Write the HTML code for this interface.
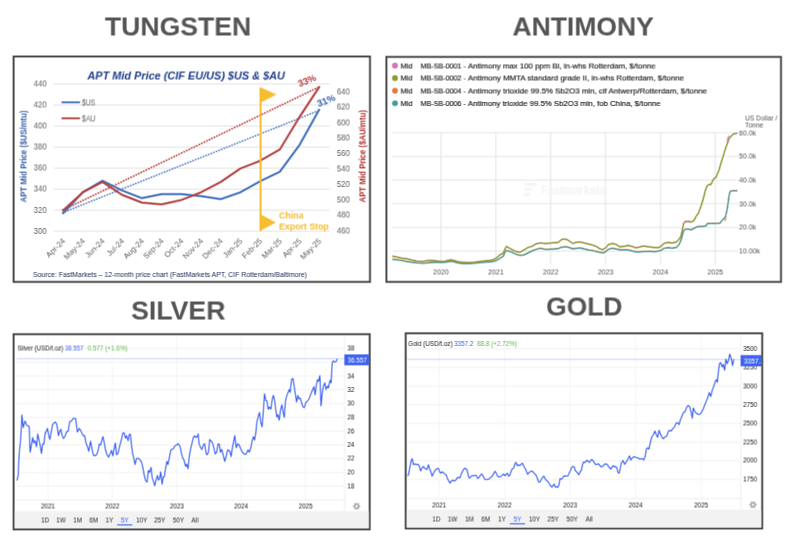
<!DOCTYPE html>
<html><head><meta charset="utf-8"><title>Commodity charts</title>
<style>html,body{margin:0;padding:0;background:#fff;overflow:hidden;}svg{display:block;font-family:"Liberation Sans",sans-serif;filter:blur(0.3px);}</style>
</head><body>
<svg width="800" height="546" viewBox="0 0 800 546">
<defs><g id="c">
<rect x="-5" y="-5" width="810" height="556" fill="#fff"/>
<text x="104.9" y="35.8" font-size="26.6" fill="#555" font-weight="bold" text-anchor="start" textLength="146.3" lengthAdjust="spacingAndGlyphs">TUNGSTEN</text>
<text x="512.5" y="35.8" font-size="26.6" fill="#555" font-weight="bold" text-anchor="start" textLength="141.3" lengthAdjust="spacingAndGlyphs">ANTIMONY</text>
<text x="131.2" y="319.2" font-size="26.6" fill="#555" font-weight="bold" text-anchor="start" textLength="94.3" lengthAdjust="spacingAndGlyphs">SILVER</text>
<text x="546.2" y="315.7" font-size="26.6" fill="#555" font-weight="bold" text-anchor="start" textLength="76.3" lengthAdjust="spacingAndGlyphs">GOLD</text>
<rect x="13.6" y="56.5" width="356.4" height="225.4" fill="#fff" stroke="#444" stroke-width="1.9"/>
<rect x="386.4" y="56.9" width="394.6" height="225.0" fill="#fff" stroke="#444" stroke-width="1.9"/>
<rect x="13.6" y="334.2" width="356.1" height="195.2" fill="#fff" stroke="#444" stroke-width="1.9"/>
<rect x="405.7" y="333.3" width="356.5" height="195.2" fill="#fff" stroke="#444" stroke-width="1.9"/>
<text x="87.4" y="79.6" font-size="11.4" fill="#1f3f8c" font-weight="bold" text-anchor="start" font-style="italic" textLength="197.5" lengthAdjust="spacingAndGlyphs">APT Mid Price (CIF EU/US) $US &amp; $AU</text>
<line x1="54" y1="83.9" x2="329.5" y2="83.9" stroke="#e4e4e4" stroke-width="1"/>
<text x="33.7" y="86.7" font-size="8.4" fill="#636363" font-weight="normal" text-anchor="start" textLength="12.9" lengthAdjust="spacingAndGlyphs">440</text>
<line x1="54" y1="105.0" x2="329.5" y2="105.0" stroke="#e4e4e4" stroke-width="1"/>
<text x="33.7" y="107.7" font-size="8.4" fill="#636363" font-weight="normal" text-anchor="start" textLength="12.9" lengthAdjust="spacingAndGlyphs">420</text>
<line x1="54" y1="126.0" x2="329.5" y2="126.0" stroke="#e4e4e4" stroke-width="1"/>
<text x="33.7" y="128.8" font-size="8.4" fill="#636363" font-weight="normal" text-anchor="start" textLength="12.9" lengthAdjust="spacingAndGlyphs">400</text>
<line x1="54" y1="147.1" x2="329.5" y2="147.1" stroke="#e4e4e4" stroke-width="1"/>
<text x="33.7" y="149.8" font-size="8.4" fill="#636363" font-weight="normal" text-anchor="start" textLength="12.9" lengthAdjust="spacingAndGlyphs">380</text>
<line x1="54" y1="168.1" x2="329.5" y2="168.1" stroke="#e4e4e4" stroke-width="1"/>
<text x="33.7" y="170.9" font-size="8.4" fill="#636363" font-weight="normal" text-anchor="start" textLength="12.9" lengthAdjust="spacingAndGlyphs">360</text>
<line x1="54" y1="189.2" x2="329.5" y2="189.2" stroke="#e4e4e4" stroke-width="1"/>
<text x="33.7" y="191.9" font-size="8.4" fill="#636363" font-weight="normal" text-anchor="start" textLength="12.9" lengthAdjust="spacingAndGlyphs">340</text>
<line x1="54" y1="210.2" x2="329.5" y2="210.2" stroke="#e4e4e4" stroke-width="1"/>
<text x="33.7" y="213.0" font-size="8.4" fill="#636363" font-weight="normal" text-anchor="start" textLength="12.9" lengthAdjust="spacingAndGlyphs">320</text>
<line x1="54" y1="231.2" x2="329.5" y2="231.2" stroke="#e4e4e4" stroke-width="1"/>
<text x="33.7" y="234.0" font-size="8.4" fill="#636363" font-weight="normal" text-anchor="start" textLength="12.9" lengthAdjust="spacingAndGlyphs">300</text>
<text x="336.9" y="94.3" font-size="8.4" fill="#636363" font-weight="normal" text-anchor="start" textLength="12.9" lengthAdjust="spacingAndGlyphs">640</text>
<text x="336.9" y="109.8" font-size="8.4" fill="#636363" font-weight="normal" text-anchor="start" textLength="12.9" lengthAdjust="spacingAndGlyphs">620</text>
<text x="336.9" y="125.2" font-size="8.4" fill="#636363" font-weight="normal" text-anchor="start" textLength="12.9" lengthAdjust="spacingAndGlyphs">600</text>
<text x="336.9" y="140.7" font-size="8.4" fill="#636363" font-weight="normal" text-anchor="start" textLength="12.9" lengthAdjust="spacingAndGlyphs">580</text>
<text x="336.9" y="156.1" font-size="8.4" fill="#636363" font-weight="normal" text-anchor="start" textLength="12.9" lengthAdjust="spacingAndGlyphs">560</text>
<text x="336.9" y="171.6" font-size="8.4" fill="#636363" font-weight="normal" text-anchor="start" textLength="12.9" lengthAdjust="spacingAndGlyphs">540</text>
<text x="336.9" y="187.0" font-size="8.4" fill="#636363" font-weight="normal" text-anchor="start" textLength="12.9" lengthAdjust="spacingAndGlyphs">520</text>
<text x="336.9" y="202.5" font-size="8.4" fill="#636363" font-weight="normal" text-anchor="start" textLength="12.9" lengthAdjust="spacingAndGlyphs">500</text>
<text x="336.9" y="217.9" font-size="8.4" fill="#636363" font-weight="normal" text-anchor="start" textLength="12.9" lengthAdjust="spacingAndGlyphs">480</text>
<text x="336.9" y="233.4" font-size="8.4" fill="#636363" font-weight="normal" text-anchor="start" textLength="12.9" lengthAdjust="spacingAndGlyphs">460</text>
<text transform="translate(26.6 156.5) rotate(-90)" font-size="8.8" fill="#3a62ab" font-weight="bold" text-anchor="middle" textLength="92" lengthAdjust="spacingAndGlyphs">APT Mid Price ($US/mtu)</text>
<text transform="translate(365.2 156.3) rotate(-90)" font-size="8.8" fill="#b53333" font-weight="bold" text-anchor="middle" textLength="92.5" lengthAdjust="spacingAndGlyphs">APT Mid Price ($AU/mtu)</text>
<text transform="translate(65.7 241.6) rotate(-45)" font-size="7.8" fill="#636363" text-anchor="end">Apr-24</text>
<text transform="translate(85.4 241.6) rotate(-45)" font-size="7.8" fill="#636363" text-anchor="end">May-24</text>
<text transform="translate(105.1 241.6) rotate(-45)" font-size="7.8" fill="#636363" text-anchor="end">Jun-24</text>
<text transform="translate(124.8 241.6) rotate(-45)" font-size="7.8" fill="#636363" text-anchor="end">Jul-24</text>
<text transform="translate(144.5 241.6) rotate(-45)" font-size="7.8" fill="#636363" text-anchor="end">Aug-24</text>
<text transform="translate(164.2 241.6) rotate(-45)" font-size="7.8" fill="#636363" text-anchor="end">Sep-24</text>
<text transform="translate(183.9 241.6) rotate(-45)" font-size="7.8" fill="#636363" text-anchor="end">Oct-24</text>
<text transform="translate(203.6 241.6) rotate(-45)" font-size="7.8" fill="#636363" text-anchor="end">Nov-24</text>
<text transform="translate(223.3 241.6) rotate(-45)" font-size="7.8" fill="#636363" text-anchor="end">Dec-24</text>
<text transform="translate(243.0 241.6) rotate(-45)" font-size="7.8" fill="#636363" text-anchor="end">Jan-25</text>
<text transform="translate(262.7 241.6) rotate(-45)" font-size="7.8" fill="#636363" text-anchor="end">Feb-25</text>
<text transform="translate(282.4 241.6) rotate(-45)" font-size="7.8" fill="#636363" text-anchor="end">Mar-25</text>
<text transform="translate(302.1 241.6) rotate(-45)" font-size="7.8" fill="#636363" text-anchor="end">Apr-25</text>
<text transform="translate(321.8 241.6) rotate(-45)" font-size="7.8" fill="#636363" text-anchor="end">May-25</text>
<line x1="61.5" y1="102.3" x2="80" y2="102.3" stroke="#3f6fbf" stroke-width="1.8"/>
<line x1="61.5" y1="118.3" x2="80" y2="118.3" stroke="#b5413f" stroke-width="1.8"/>
<text x="81.9" y="105.2" font-size="8.3" fill="#636363" font-weight="normal" text-anchor="start" textLength="13.4" lengthAdjust="spacingAndGlyphs">$US</text>
<text x="81.9" y="121.5" font-size="8.3" fill="#636363" font-weight="normal" text-anchor="start" textLength="13.6" lengthAdjust="spacingAndGlyphs">$AU</text>
<line x1="63" y1="210" x2="319" y2="87" stroke="#bd3a38" stroke-width="1.75" stroke-dasharray="0.1 2.7" stroke-linecap="round"/>
<line x1="63" y1="212.5" x2="319" y2="110.5" stroke="#4674bf" stroke-width="1.65" stroke-dasharray="0.1 2.7" stroke-linecap="round"/>
<path d="M63.1 213.3 L82.8 192.3 L102.5 180.8 L122.2 190.5 L141.9 198.2 L161.6 194.1 L181.3 194.1 L201.0 196.2 L220.7 199.2 L240.4 192.3 L260.1 181.3 L279.8 171.8 L299.5 145.0 L319.2 109.7" fill="none" stroke="#3f6fbf" stroke-width="2" stroke-linejoin="round" stroke-linecap="round"/>
<path d="M63.1 210.3 L82.8 192.3 L102.5 182.0 L122.2 194.9 L141.9 202.6 L161.6 204.4 L181.3 200.0 L201.0 192.3 L220.7 182.0 L240.4 168.5 L260.1 160.8 L279.8 149.5 L299.5 117.0 L319.2 87.0" fill="none" stroke="#b5413f" stroke-width="2" stroke-linejoin="round" stroke-linecap="round"/>
<line x1="260.6" y1="88" x2="260.6" y2="231" stroke="#f5bd2f" stroke-width="2"/>
<path d="M259.8 87 L276.4 94.5 L259.8 103 Z" fill="#f5bd2f"/>
<path d="M259.8 214 L275.8 222.5 L259.8 231 Z" fill="#f5bd2f"/>
<text x="279.0" y="218.8" font-size="8.8" fill="#f5bd2f" font-weight="bold" text-anchor="start">China</text>
<text x="279.0" y="229.8" font-size="8.8" fill="#f5bd2f" font-weight="bold" text-anchor="start">Export Stop</text>
<text transform="translate(299.5 87) rotate(-22)" font-size="9.3" fill="#b53b39" font-weight="bold">33%</text>
<text transform="translate(318.7 107) rotate(-22)" font-size="9.3" fill="#3761ad" font-weight="bold">31%</text>
<text x="33.0" y="277.0" font-size="6.9" fill="#1a2855" font-weight="normal" text-anchor="start" textLength="274" lengthAdjust="spacingAndGlyphs">Source: FastMarkets – 12-month price chart (FastMarkets APT, CIF Rotterdam/Baltimore)</text>
<circle cx="395" cy="65.6" r="2.9" fill="#d572b8"/>
<text x="400.6" y="68.3" font-size="7.3" fill="#222" font-weight="normal" text-anchor="start" stroke="#222" stroke-width="0.15">Mid</text>
<text x="420.7" y="68.3" font-size="7.5" fill="#222" font-weight="normal" text-anchor="start" textLength="45.1" lengthAdjust="spacingAndGlyphs" stroke="#222" stroke-width="0.15">MB-SB-0001 -</text>
<text x="468.0" y="68.3" font-size="7.5" fill="#222" font-weight="normal" text-anchor="start" textLength="187.6" lengthAdjust="spacingAndGlyphs" stroke="#222" stroke-width="0.15">Antimony max 100 ppm Bi, in-whs Rotterdam, $/tonne</text>
<circle cx="395" cy="78.1" r="2.9" fill="#8d9c2a"/>
<text x="400.6" y="80.8" font-size="7.3" fill="#222" font-weight="normal" text-anchor="start" stroke="#222" stroke-width="0.15">Mid</text>
<text x="420.7" y="80.8" font-size="7.5" fill="#222" font-weight="normal" text-anchor="start" textLength="45.1" lengthAdjust="spacingAndGlyphs" stroke="#222" stroke-width="0.15">MB-SB-0002 -</text>
<text x="468.0" y="80.8" font-size="7.5" fill="#222" font-weight="normal" text-anchor="start" textLength="216.0" lengthAdjust="spacingAndGlyphs" stroke="#222" stroke-width="0.15">Antimony MMTA standard grade II, in-whs Rotterdam, $/tonne</text>
<circle cx="395" cy="90.7" r="2.9" fill="#e8763a"/>
<text x="400.6" y="93.4" font-size="7.3" fill="#222" font-weight="normal" text-anchor="start" stroke="#222" stroke-width="0.15">Mid</text>
<text x="420.7" y="93.4" font-size="7.5" fill="#222" font-weight="normal" text-anchor="start" textLength="45.1" lengthAdjust="spacingAndGlyphs" stroke="#222" stroke-width="0.15">MB-SB-0004 -</text>
<text x="468.0" y="93.4" font-size="7.5" fill="#222" font-weight="normal" text-anchor="start" textLength="239.0" lengthAdjust="spacingAndGlyphs" stroke="#222" stroke-width="0.15">Antimony trioxide 99.5% Sb2O3 min, cif Antwerp/Rotterdam, $/tonne</text>
<circle cx="395" cy="103.2" r="2.9" fill="#3f9c9a"/>
<text x="400.6" y="106.0" font-size="7.3" fill="#222" font-weight="normal" text-anchor="start" stroke="#222" stroke-width="0.15">Mid</text>
<text x="420.7" y="106.0" font-size="7.5" fill="#222" font-weight="normal" text-anchor="start" textLength="45.1" lengthAdjust="spacingAndGlyphs" stroke="#222" stroke-width="0.15">MB-SB-0006 -</text>
<text x="468.0" y="106.0" font-size="7.5" fill="#222" font-weight="normal" text-anchor="start" textLength="192.6" lengthAdjust="spacingAndGlyphs" stroke="#222" stroke-width="0.15">Antimony trioxide 99.5% Sb2O3 min, fob China, $/tonne</text>
<line x1="392.4" y1="132.7" x2="738.5" y2="132.7" stroke="#e4e4e4" stroke-width="0.9"/>
<text x="739.0" y="135.2" font-size="7" fill="#555" font-weight="normal" text-anchor="start">60.0k</text>
<line x1="392.4" y1="156.4" x2="738.5" y2="156.4" stroke="#e4e4e4" stroke-width="0.9"/>
<text x="739.0" y="158.9" font-size="7" fill="#555" font-weight="normal" text-anchor="start">50.0k</text>
<line x1="392.4" y1="180.1" x2="738.5" y2="180.1" stroke="#e4e4e4" stroke-width="0.9"/>
<text x="739.0" y="182.6" font-size="7" fill="#555" font-weight="normal" text-anchor="start">40.0k</text>
<line x1="392.4" y1="203.7" x2="738.5" y2="203.7" stroke="#e4e4e4" stroke-width="0.9"/>
<text x="739.0" y="206.2" font-size="7" fill="#555" font-weight="normal" text-anchor="start">30.0k</text>
<line x1="392.4" y1="227.4" x2="738.5" y2="227.4" stroke="#e4e4e4" stroke-width="0.9"/>
<text x="739.0" y="229.9" font-size="7" fill="#555" font-weight="normal" text-anchor="start">20.0k</text>
<line x1="392.4" y1="251.1" x2="738.5" y2="251.1" stroke="#e4e4e4" stroke-width="0.9"/>
<text x="739.0" y="253.6" font-size="7" fill="#555" font-weight="normal" text-anchor="start">10.00k</text>
<line x1="441.0" y1="132.7" x2="441.0" y2="264" stroke="#e4e4e4" stroke-width="0.9"/>
<text x="441.0" y="274.5" font-size="7" fill="#555" font-weight="normal" text-anchor="middle">2020</text>
<line x1="495.9" y1="132.7" x2="495.9" y2="264" stroke="#e4e4e4" stroke-width="0.9"/>
<text x="495.9" y="274.5" font-size="7" fill="#555" font-weight="normal" text-anchor="middle">2021</text>
<line x1="550.7" y1="132.7" x2="550.7" y2="264" stroke="#e4e4e4" stroke-width="0.9"/>
<text x="550.7" y="274.5" font-size="7" fill="#555" font-weight="normal" text-anchor="middle">2022</text>
<line x1="605.6" y1="132.7" x2="605.6" y2="264" stroke="#e4e4e4" stroke-width="0.9"/>
<text x="605.6" y="274.5" font-size="7" fill="#555" font-weight="normal" text-anchor="middle">2023</text>
<line x1="660.5" y1="132.7" x2="660.5" y2="264" stroke="#e4e4e4" stroke-width="0.9"/>
<text x="660.5" y="274.5" font-size="7" fill="#555" font-weight="normal" text-anchor="middle">2024</text>
<line x1="715.3" y1="132.7" x2="715.3" y2="264" stroke="#e4e4e4" stroke-width="0.9"/>
<text x="715.3" y="274.5" font-size="7" fill="#555" font-weight="normal" text-anchor="middle">2025</text>
<text x="745.2" y="120.7" font-size="6.7" fill="#555" font-weight="normal" text-anchor="start" textLength="32" lengthAdjust="spacingAndGlyphs">US Dollar /</text>
<text x="745.2" y="127.6" font-size="6.7" fill="#555" font-weight="normal" text-anchor="start">Tonne</text>
<path d="M524.5 182.8 h12.2 v3.1 h-12.2 Z M524.5 188 h7.9 v2.7 h-7.9 Z M524.5 192.9 h5.2 v3 h-5.2 Z" fill="#f5f5f5"/>
<text x="540.8" y="194.6" font-size="12.6" fill="#f5f5f5" font-weight="bold" text-anchor="start" textLength="65" lengthAdjust="spacingAndGlyphs">Fastmarkets</text>
<path d="M392.3 259.0 L396.5 259.5 L401.8 260.2 L407.0 261.3 L412.3 262.0 L417.5 262.7 L422.8 263.0 L428.0 262.5 L433.3 262.1 L438.5 262.0 L443.8 262.1 L447.3 261.6 L450.8 260.9 L454.3 261.6 L457.8 262.7 L463.0 263.4 L468.3 263.4 L473.5 263.0 L478.8 262.5 L484.0 262.0 L489.3 261.6 L492.8 261.3 L496.3 260.2 L499.8 258.1 L503.3 256.0 L505.0 252.0 L506.4 250.2 L508.5 250.8 L512.0 252.0 L516.0 254.0 L520.0 255.2 L524.0 254.6 L528.0 252.6 L532.0 250.6 L536.0 249.2 L540.0 248.0 L546.0 249.2 L552.0 248.8 L558.0 248.4 L561.0 247.2 L564.0 246.6 L567.0 246.6 L570.0 247.6 L573.0 248.6 L576.0 248.2 L580.0 247.6 L584.0 248.6 L588.0 249.6 L592.0 250.2 L596.0 251.2 L600.0 252.2 L603.0 252.6 L606.0 251.2 L608.0 249.2 L612.0 248.0 L616.0 248.6 L620.0 249.6 L624.0 249.6 L628.0 249.6 L632.0 250.6 L636.0 251.6 L640.0 251.6 L644.0 251.2 L648.0 251.2 L650.0 250.9 L654.1 251.5 L658.2 250.9 L661.0 250.1 L663.7 248.2 L667.9 247.3 L672.0 247.9 L676.1 247.3 L678.8 244.6 L680.8 240.5 L682.4 235.0 L683.5 230.9 L685.2 228.9 L688.5 228.9 L691.2 229.5 L694.0 228.1 L696.7 226.7 L699.5 226.2 L703.6 226.2 L706.3 225.4 L707.1 223.4 L710.4 223.2 L715.9 223.2 L720.1 222.9 L721.4 220.7 L723.6 218.5 L725.5 216.3 L726.9 210.3 L728.0 203.4 L729.1 195.1 L730.2 191.0 L732.4 190.5 L737.4 190.5" fill="none" stroke="#e8763a" stroke-width="1.0" stroke-linejoin="round"/>
<path d="M392.3 259.4 L396.5 259.9 L401.8 260.6 L407.0 261.7 L412.3 262.4 L417.5 263.1 L422.8 263.4 L428.0 262.9 L433.3 262.5 L438.5 262.4 L443.8 262.5 L447.3 262.0 L450.8 261.3 L454.3 262.0 L457.8 263.1 L463.0 263.8 L468.3 263.8 L473.5 263.4 L478.8 262.9 L484.0 262.4 L489.3 262.0 L492.8 261.7 L496.3 260.6 L499.8 258.5 L503.3 256.4 L505.0 252.4 L506.4 250.6 L508.5 251.2 L512.0 252.4 L516.0 254.4 L520.0 255.6 L524.0 255.0 L528.0 253.0 L532.0 251.0 L536.0 249.6 L540.0 248.4 L546.0 249.6 L552.0 249.2 L558.0 248.8 L561.0 247.6 L564.0 247.0 L567.0 247.0 L570.0 248.0 L573.0 249.0 L576.0 248.6 L580.0 248.0 L584.0 249.0 L588.0 250.0 L592.0 250.6 L596.0 251.6 L600.0 252.6 L603.0 253.0 L606.0 251.6 L608.0 249.6 L612.0 248.4 L616.0 249.0 L620.0 250.0 L624.0 250.0 L628.0 250.0 L632.0 251.0 L636.0 252.0 L640.0 252.0 L644.0 251.6 L648.0 251.6 L650.0 251.3 L654.1 251.9 L658.2 251.3 L661.0 250.5 L663.7 248.6 L667.9 247.7 L672.0 248.3 L676.1 247.7 L678.8 245.0 L680.8 240.9 L682.4 235.4 L683.5 231.3 L685.2 229.3 L688.5 229.3 L691.2 229.9 L694.0 228.5 L696.7 227.1 L699.5 226.6 L703.6 226.6 L706.3 225.8 L707.1 223.8 L710.4 223.6 L715.9 223.6 L720.1 223.3 L721.4 221.1 L723.6 218.9 L725.5 216.7 L726.9 210.7 L728.0 203.8 L729.1 195.5 L730.2 191.4 L732.4 190.9 L737.4 190.9" fill="none" stroke="#3f9c9a" stroke-width="1.2" stroke-linejoin="round"/>
<path d="M392.3 255.9 L396.5 256.8 L401.8 257.9 L407.0 258.6 L412.3 260.0 L417.5 261.0 L422.8 261.2 L428.0 260.3 L433.3 260.3 L438.5 261.0 L443.8 261.4 L447.3 260.3 L450.8 259.6 L454.3 260.3 L457.8 261.4 L463.0 262.1 L468.3 262.4 L473.5 262.1 L478.8 261.4 L484.0 260.8 L489.3 260.3 L492.8 259.6 L496.3 257.9 L499.8 254.7 L503.3 253.0 L505.0 248.6 L506.4 246.3 L508.5 247.4 L512.0 249.5 L516.0 251.3 L520.0 252.1 L524.0 249.7 L528.0 247.3 L532.0 246.1 L536.0 243.7 L540.0 242.7 L546.0 243.3 L552.0 242.7 L558.0 242.3 L561.0 239.7 L564.0 238.7 L567.0 239.3 L570.0 241.3 L573.0 243.3 L576.0 242.1 L580.0 241.7 L584.0 242.7 L588.0 243.7 L592.0 244.7 L596.0 246.1 L600.0 248.7 L603.0 249.3 L606.0 247.3 L608.0 244.7 L612.0 243.3 L616.0 244.1 L620.0 246.7 L624.0 246.1 L628.0 245.3 L632.0 246.1 L636.0 247.7 L640.0 246.7 L644.0 245.7 L648.0 246.7 L650.0 246.6 L654.1 247.4 L658.2 247.4 L661.0 246.1 L663.7 243.3 L667.9 242.2 L672.0 242.8 L676.1 242.0 L678.8 239.2 L680.8 236.5 L682.4 229.6 L683.5 223.5 L685.2 221.3 L688.5 221.3 L691.2 221.9 L694.0 220.2 L696.2 215.9 L698.4 213.1 L700.5 207.6 L702.2 202.1 L703.8 196.6 L705.5 189.8 L707.1 185.6 L708.8 184.3 L711.0 184.3 L712.6 180.7 L714.3 177.9 L715.9 177.4 L717.6 173.3 L719.2 169.2 L720.9 163.1 L722.5 158.2 L724.2 152.7 L725.8 147.2 L727.5 143.1 L729.1 138.4 L731.0 136.2 L733.0 134.0 L735.2 133.4 L737.4 132.9" fill="none" stroke="#d572b8" stroke-width="1.0" stroke-linejoin="round"/>
<path d="M392.3 256.2 L396.5 257.1 L401.8 258.2 L407.0 258.9 L412.3 260.3 L417.5 261.3 L422.8 261.5 L428.0 260.6 L433.3 260.6 L438.5 261.3 L443.8 261.7 L447.3 260.6 L450.8 259.9 L454.3 260.6 L457.8 261.7 L463.0 262.4 L468.3 262.7 L473.5 262.4 L478.8 261.7 L484.0 261.1 L489.3 260.6 L492.8 259.9 L496.3 258.2 L499.8 255.0 L503.3 253.3 L505.0 248.9 L506.4 246.6 L508.5 247.7 L512.0 249.8 L516.0 251.6 L520.0 252.4 L524.0 250.0 L528.0 247.6 L532.0 246.4 L536.0 244.0 L540.0 243.0 L546.0 243.6 L552.0 243.0 L558.0 242.6 L561.0 240.0 L564.0 239.0 L567.0 239.6 L570.0 241.6 L573.0 243.6 L576.0 242.4 L580.0 242.0 L584.0 243.0 L588.0 244.0 L592.0 245.0 L596.0 246.4 L600.0 249.0 L603.0 249.6 L606.0 247.6 L608.0 245.0 L612.0 243.6 L616.0 244.4 L620.0 247.0 L624.0 246.4 L628.0 245.6 L632.0 246.4 L636.0 248.0 L640.0 247.0 L644.0 246.0 L648.0 247.0 L650.0 246.9 L654.1 247.7 L658.2 247.7 L661.0 246.4 L663.7 243.6 L667.9 242.5 L672.0 243.1 L676.1 242.3 L678.8 239.5 L680.8 236.8 L682.4 229.9 L683.5 223.8 L685.2 221.6 L688.5 221.6 L691.2 222.2 L694.0 220.5 L696.2 216.2 L698.4 213.4 L700.5 207.9 L702.2 202.4 L703.8 196.9 L705.5 190.1 L707.1 185.9 L708.8 184.6 L711.0 184.6 L712.6 181.0 L714.3 178.2 L715.9 177.7 L717.6 173.6 L719.2 169.5 L720.9 163.4 L722.5 158.5 L724.2 153.0 L725.8 147.5 L727.5 143.4 L729.1 138.7 L731.0 136.5 L733.0 134.3 L735.2 133.7 L737.4 133.2" fill="none" stroke="#8d9c2a" stroke-width="1.3" stroke-linejoin="round"/>
<path d="M727.3 142.5 L727.8 138 L729.6 135.6" fill="none" stroke="#d572b8" stroke-width="1.1"/>
<path d="M724.3 220.3 L725.6 220.3 L725.6 216" fill="none" stroke="#e8763a" stroke-width="1.0"/>
<path d="M684 222.3 L687 221.6 L690 220.6" fill="none" stroke="#d572b8" stroke-width="0.9"/>
<clipPath id="c13"><rect x="13.6" y="334.2" width="355.2" height="195.2"/></clipPath>
<rect x="14.5" y="511.2" width="354.3" height="17.2" fill="#f2f2f2"/>
<line x1="16.8" y1="348.4" x2="344.7" y2="348.4" stroke="#f0f0f0" stroke-width="0.8"/>
<text x="347.3" y="350.6" font-size="6.3" fill="#222" font-weight="normal" text-anchor="start">38</text>
<line x1="16.8" y1="362.2" x2="344.7" y2="362.2" stroke="#f0f0f0" stroke-width="0.8"/>
<line x1="16.8" y1="376.0" x2="344.7" y2="376.0" stroke="#f0f0f0" stroke-width="0.8"/>
<text x="347.3" y="378.2" font-size="6.3" fill="#222" font-weight="normal" text-anchor="start">34</text>
<line x1="16.8" y1="389.7" x2="344.7" y2="389.7" stroke="#f0f0f0" stroke-width="0.8"/>
<text x="347.3" y="392.0" font-size="6.3" fill="#222" font-weight="normal" text-anchor="start">32</text>
<line x1="16.8" y1="403.5" x2="344.7" y2="403.5" stroke="#f0f0f0" stroke-width="0.8"/>
<text x="347.3" y="405.8" font-size="6.3" fill="#222" font-weight="normal" text-anchor="start">30</text>
<line x1="16.8" y1="417.3" x2="344.7" y2="417.3" stroke="#f0f0f0" stroke-width="0.8"/>
<text x="347.3" y="419.5" font-size="6.3" fill="#222" font-weight="normal" text-anchor="start">28</text>
<line x1="16.8" y1="431.1" x2="344.7" y2="431.1" stroke="#f0f0f0" stroke-width="0.8"/>
<text x="347.3" y="433.3" font-size="6.3" fill="#222" font-weight="normal" text-anchor="start">26</text>
<line x1="16.8" y1="444.9" x2="344.7" y2="444.9" stroke="#f0f0f0" stroke-width="0.8"/>
<text x="347.3" y="447.1" font-size="6.3" fill="#222" font-weight="normal" text-anchor="start">24</text>
<line x1="16.8" y1="458.6" x2="344.7" y2="458.6" stroke="#f0f0f0" stroke-width="0.8"/>
<text x="347.3" y="460.9" font-size="6.3" fill="#222" font-weight="normal" text-anchor="start">22</text>
<line x1="16.8" y1="472.4" x2="344.7" y2="472.4" stroke="#f0f0f0" stroke-width="0.8"/>
<text x="347.3" y="474.7" font-size="6.3" fill="#222" font-weight="normal" text-anchor="start">20</text>
<line x1="16.8" y1="486.2" x2="344.7" y2="486.2" stroke="#f0f0f0" stroke-width="0.8"/>
<text x="347.3" y="488.4" font-size="6.3" fill="#222" font-weight="normal" text-anchor="start">18</text>
<line x1="48.0" y1="337.2" x2="48.0" y2="500.0" stroke="#f3f5f7" stroke-width="0.8"/>
<text x="48.0" y="508.6" font-size="6.3" fill="#222" font-weight="normal" text-anchor="middle">2021</text>
<line x1="112.4" y1="337.2" x2="112.4" y2="500.0" stroke="#f3f5f7" stroke-width="0.8"/>
<text x="112.4" y="508.6" font-size="6.3" fill="#222" font-weight="normal" text-anchor="middle">2022</text>
<line x1="176.8" y1="337.2" x2="176.8" y2="500.0" stroke="#f3f5f7" stroke-width="0.8"/>
<text x="176.8" y="508.6" font-size="6.3" fill="#222" font-weight="normal" text-anchor="middle">2023</text>
<line x1="241.2" y1="337.2" x2="241.2" y2="500.0" stroke="#f3f5f7" stroke-width="0.8"/>
<text x="241.2" y="508.6" font-size="6.3" fill="#222" font-weight="normal" text-anchor="middle">2024</text>
<line x1="305.6" y1="337.2" x2="305.6" y2="500.0" stroke="#f3f5f7" stroke-width="0.8"/>
<text x="305.6" y="508.6" font-size="6.3" fill="#222" font-weight="normal" text-anchor="middle">2025</text>
<line x1="344.7" y1="337.2" x2="344.7" y2="511.2" stroke="#efefef" stroke-width="0.8"/>
<line x1="16.8" y1="500.0" x2="345.7" y2="500.0" stroke="#ebebeb" stroke-width="0.8"/>
<line x1="16.8" y1="358.7" x2="344.7" y2="358.7" stroke="#bfcbfa" stroke-width="0.8"/>
<rect x="344.4" y="354.4" width="24.6" height="10.9" fill="#3d63f0"/>
<g clip-path="url(#c13)"><text x="347.6" y="362.7" font-size="6.3" fill="#fff" font-weight="normal" text-anchor="start">36.557</text></g>
<text x="17.6" y="350.7" font-size="6.3" fill="#222" font-weight="normal" text-anchor="start" textLength="45.7" lengthAdjust="spacingAndGlyphs">Silver (USD/t.oz)</text>
<text x="65.0" y="350.7" font-size="6.3" fill="#3d63f0" font-weight="normal" text-anchor="start" textLength="18.5" lengthAdjust="spacingAndGlyphs">36.557</text>
<text x="87.7" y="350.7" font-size="6.3" fill="#5fc24a" font-weight="normal" text-anchor="start" textLength="39.8" lengthAdjust="spacingAndGlyphs">0.577 (+1.6%)</text>
<text x="45.1" y="522.5" font-size="6.3" fill="#2a2a2a" font-weight="normal" text-anchor="middle">1D</text>
<text x="61.0" y="522.5" font-size="6.3" fill="#2a2a2a" font-weight="normal" text-anchor="middle">1W</text>
<text x="77.7" y="522.5" font-size="6.3" fill="#2a2a2a" font-weight="normal" text-anchor="middle">1M</text>
<text x="93.7" y="522.5" font-size="6.3" fill="#2a2a2a" font-weight="normal" text-anchor="middle">6M</text>
<text x="109.4" y="522.5" font-size="6.3" fill="#2a2a2a" font-weight="normal" text-anchor="middle">1Y</text>
<text x="124.7" y="522.5" font-size="6.3" fill="#3d63f0" font-weight="normal" text-anchor="middle">5Y</text>
<line x1="117.2" y1="524.9" x2="132.3" y2="524.9" stroke="#3d63f0" stroke-width="1.1"/>
<text x="141.8" y="522.5" font-size="6.3" fill="#2a2a2a" font-weight="normal" text-anchor="middle">10Y</text>
<text x="159.8" y="522.5" font-size="6.3" fill="#2a2a2a" font-weight="normal" text-anchor="middle">25Y</text>
<text x="178.5" y="522.5" font-size="6.3" fill="#2a2a2a" font-weight="normal" text-anchor="middle">50Y</text>
<text x="194.9" y="522.5" font-size="6.3" fill="#2a2a2a" font-weight="normal" text-anchor="middle">All</text>
<path d="M17.0 480.6 L18.2 475.1 L19.2 453.1 L20.6 440.3 L21.4 425.6 L21.9 415.0 L23.2 427.5 L25.0 421.1 L26.5 424.7 L27.9 426.0 L29.2 426.6 L30.1 452.2 L31.6 444.0 L32.7 437.5 L33.8 443.0 L35.1 440.7 L36.6 446.7 L37.7 433.9 L38.9 439.4 L40.2 445.8 L41.5 453.5 L42.6 444.0 L43.9 444.0 L45.2 433.0 L46.3 431.5 L47.5 428.4 L48.8 435.7 L49.9 439.4 L51.2 432.1 L52.5 424.7 L54.0 422.9 L55.4 422.0 L56.9 424.7 L58.5 435.7 L59.8 431.1 L60.9 429.3 L62.2 435.7 L63.5 438.5 L64.9 436.6 L66.4 432.1 L68.2 431.1 L69.7 421.6 L71.4 421.1 L73.2 418.3 L75.6 418.3 L76.3 423.8 L77.4 432.1 L79.2 428.4 L80.5 430.2 L81.8 433.0 L83.3 435.7 L84.7 435.7 L86.0 443.0 L87.8 447.6 L88.8 451.3 L90.6 441.2 L92.1 449.5 L93.3 454.9 L94.6 455.9 L96.4 454.9 L97.9 451.3 L99.4 444.0 L100.7 444.9 L101.9 440.3 L103.0 436.6 L104.3 443.0 L105.6 450.4 L107.1 454.9 L108.5 457.1 L110.4 453.1 L111.6 450.4 L112.9 455.9 L114.0 449.5 L115.3 443.0 L116.6 454.9 L118.1 453.1 L119.5 446.7 L120.0 444.9 L121.5 439.4 L122.7 433.3 L124.0 432.6 L125.5 438.1 L126.6 435.7 L128.1 440.7 L129.2 434.8 L130.3 433.9 L131.4 444.0 L132.5 453.1 L133.7 457.7 L135.0 464.5 L136.5 458.6 L137.9 458.2 L139.8 459.5 L141.6 462.3 L142.9 467.8 L144.2 475.1 L145.6 480.6 L147.1 482.1 L148.4 470.5 L149.7 472.3 L151.1 467.4 L152.2 477.8 L153.5 481.5 L154.8 485.7 L156.3 478.8 L157.4 475.5 L158.5 480.2 L159.6 478.4 L160.7 471.8 L162.1 484.2 L163.2 476.9 L164.3 476.9 L165.4 469.6 L166.9 461.4 L168.0 464.5 L169.5 456.8 L170.9 449.8 L172.2 449.1 L173.5 448.5 L174.9 445.8 L176.8 444.9 L178.2 443.6 L180.1 446.7 L181.4 453.1 L182.6 457.7 L184.1 460.4 L185.6 466.3 L186.7 464.1 L188.1 468.7 L189.2 456.8 L190.5 449.5 L191.8 444.0 L193.3 437.5 L194.7 435.7 L196.0 437.5 L197.3 436.6 L198.2 433.9 L199.1 444.0 L200.6 447.3 L201.9 449.5 L203.3 444.9 L204.6 443.6 L206.1 453.1 L207.0 454.9 L208.5 452.2 L209.7 439.4 L211.2 441.2 L212.5 443.0 L213.8 447.6 L215.2 454.0 L216.7 452.2 L218.0 444.0 L219.3 444.0 L220.4 452.2 L221.8 449.5 L222.9 454.0 L224.8 461.4 L226.2 455.9 L227.7 449.8 L229.5 450.9 L230.0 452.1 L231.1 456.5 L232.2 448.8 L233.5 442.2 L234.8 435.6 L236.2 447.7 L237.7 443.7 L239.2 445.1 L241.0 449.5 L242.7 452.5 L244.5 454.3 L246.3 453.8 L248.0 449.9 L249.3 452.1 L250.9 447.7 L252.0 441.5 L253.3 436.7 L254.6 440.0 L255.9 432.3 L256.8 422.4 L258.1 416.9 L259.5 412.5 L260.8 422.4 L262.1 426.8 L263.4 410.3 L264.5 393.8 L265.8 400.4 L266.9 401.1 L268.2 409.2 L269.6 407.0 L270.9 409.2 L272.2 399.3 L273.3 395.4 L274.6 400.4 L275.7 409.2 L276.8 416.9 L277.9 414.7 L279.2 420.2 L280.5 410.3 L281.9 404.8 L283.2 412.5 L284.3 417.4 L285.4 401.5 L286.7 396.0 L288.0 392.7 L289.3 389.5 L290.2 392.3 L291.5 379.6 L292.9 378.5 L294.2 386.2 L295.3 393.8 L296.6 402.0 L297.9 395.4 L299.0 398.9 L300.3 398.2 L301.6 402.6 L303.0 407.0 L304.3 407.7 L305.8 402.6 L307.4 401.1 L309.1 398.9 L310.9 393.8 L312.4 390.1 L314.0 386.6 L315.1 394.9 L316.4 385.1 L317.5 379.6 L318.6 381.3 L319.9 375.6 L321.0 405.9 L322.3 392.7 L323.4 386.2 L324.9 382.9 L326.0 389.5 L327.4 386.2 L328.5 387.9 L329.6 381.8 L330.4 380.2 L331.1 382.9 L332.2 363.1 L333.3 360.9 L334.6 362.0 L336.2 361.5 L337.3 358.7" fill="none" stroke="#2f58f2" stroke-width="1.05" stroke-linejoin="round"/>
<path d="M360.3 505.8 L360.3 506.8 L359.3 507.4 L358.9 508.1 L358.8 509.2 L358.0 509.7 L357.0 509.2 L356.2 509.2 L355.2 509.7 L354.3 509.2 L354.3 508.1 L353.9 507.4 L352.9 506.8 L352.9 505.8 L353.9 505.2 L354.3 504.5 L354.4 503.4 L355.2 502.9 L356.2 503.4 L357.0 503.4 L358.0 502.9 L358.9 503.4 L358.9 504.5 L359.3 505.2 Z" fill="#b0b0b0"/>
<circle cx="356.6" cy="506.3" r="1.1" fill="#fff"/>
<clipPath id="c405"><rect x="405.7" y="333.3" width="355.6" height="195.2"/></clipPath>
<rect x="406.6" y="509.8" width="354.7" height="17.9" fill="#f2f2f2"/>
<line x1="407.3" y1="348.8" x2="740.9" y2="348.8" stroke="#f0f0f0" stroke-width="0.8"/>
<text x="743.2" y="351.1" font-size="6.3" fill="#222" font-weight="normal" text-anchor="start">3500</text>
<line x1="407.3" y1="367.4" x2="740.9" y2="367.4" stroke="#f0f0f0" stroke-width="0.8"/>
<text x="743.2" y="369.7" font-size="6.3" fill="#222" font-weight="normal" text-anchor="start">3250</text>
<line x1="407.3" y1="386.1" x2="740.9" y2="386.1" stroke="#f0f0f0" stroke-width="0.8"/>
<text x="743.2" y="388.4" font-size="6.3" fill="#222" font-weight="normal" text-anchor="start">3000</text>
<line x1="407.3" y1="404.8" x2="740.9" y2="404.8" stroke="#f0f0f0" stroke-width="0.8"/>
<text x="743.2" y="407.0" font-size="6.3" fill="#222" font-weight="normal" text-anchor="start">2750</text>
<line x1="407.3" y1="423.4" x2="740.9" y2="423.4" stroke="#f0f0f0" stroke-width="0.8"/>
<text x="743.2" y="425.6" font-size="6.3" fill="#222" font-weight="normal" text-anchor="start">2500</text>
<line x1="407.3" y1="442.1" x2="740.9" y2="442.1" stroke="#f0f0f0" stroke-width="0.8"/>
<text x="743.2" y="444.3" font-size="6.3" fill="#222" font-weight="normal" text-anchor="start">2250</text>
<line x1="407.3" y1="460.7" x2="740.9" y2="460.7" stroke="#f0f0f0" stroke-width="0.8"/>
<text x="743.2" y="462.9" font-size="6.3" fill="#222" font-weight="normal" text-anchor="start">2000</text>
<line x1="407.3" y1="479.4" x2="740.9" y2="479.4" stroke="#f0f0f0" stroke-width="0.8"/>
<text x="743.2" y="481.6" font-size="6.3" fill="#222" font-weight="normal" text-anchor="start">1750</text>
<line x1="439.2" y1="336.3" x2="439.2" y2="498.5" stroke="#f3f5f7" stroke-width="0.8"/>
<text x="439.2" y="507.2" font-size="6.3" fill="#222" font-weight="normal" text-anchor="middle">2021</text>
<line x1="504.7" y1="336.3" x2="504.7" y2="498.5" stroke="#f3f5f7" stroke-width="0.8"/>
<text x="504.7" y="507.2" font-size="6.3" fill="#222" font-weight="normal" text-anchor="middle">2022</text>
<line x1="570.2" y1="336.3" x2="570.2" y2="498.5" stroke="#f3f5f7" stroke-width="0.8"/>
<text x="570.2" y="507.2" font-size="6.3" fill="#222" font-weight="normal" text-anchor="middle">2023</text>
<line x1="635.7" y1="336.3" x2="635.7" y2="498.5" stroke="#f3f5f7" stroke-width="0.8"/>
<text x="635.7" y="507.2" font-size="6.3" fill="#222" font-weight="normal" text-anchor="middle">2024</text>
<line x1="701.2" y1="336.3" x2="701.2" y2="498.5" stroke="#f3f5f7" stroke-width="0.8"/>
<text x="701.2" y="507.2" font-size="6.3" fill="#222" font-weight="normal" text-anchor="middle">2025</text>
<line x1="740.9" y1="336.3" x2="740.9" y2="509.8" stroke="#efefef" stroke-width="0.8"/>
<line x1="407.3" y1="498.5" x2="741.9" y2="498.5" stroke="#ebebeb" stroke-width="0.8"/>
<line x1="407.3" y1="359.4" x2="740.9" y2="359.4" stroke="#bfcbfa" stroke-width="0.8"/>
<rect x="740.6" y="355.1" width="20.8" height="11.2" fill="#3d63f0"/>
<g clip-path="url(#c405)"><text x="743.8" y="363.8" font-size="6.7" fill="#fff" font-weight="normal" text-anchor="start">3357.2</text></g>
<text x="408.1" y="346.0" font-size="6.3" fill="#222" font-weight="normal" text-anchor="start" textLength="44.6" lengthAdjust="spacingAndGlyphs">Gold (USD/t.oz)</text>
<text x="454.2" y="346.0" font-size="6.3" fill="#3d63f0" font-weight="normal" text-anchor="start" textLength="19.3" lengthAdjust="spacingAndGlyphs">3357.2</text>
<text x="477.0" y="346.0" font-size="6.3" fill="#5fc24a" font-weight="normal" text-anchor="start" textLength="40.0" lengthAdjust="spacingAndGlyphs">88.8 (+2.72%)</text>
<text x="436.4" y="521.4" font-size="6.3" fill="#2a2a2a" font-weight="normal" text-anchor="middle">1D</text>
<text x="452.5" y="521.4" font-size="6.3" fill="#2a2a2a" font-weight="normal" text-anchor="middle">1W</text>
<text x="469.4" y="521.4" font-size="6.3" fill="#2a2a2a" font-weight="normal" text-anchor="middle">1M</text>
<text x="485.7" y="521.4" font-size="6.3" fill="#2a2a2a" font-weight="normal" text-anchor="middle">6M</text>
<text x="502.0" y="521.4" font-size="6.3" fill="#2a2a2a" font-weight="normal" text-anchor="middle">1Y</text>
<text x="517.4" y="521.4" font-size="6.3" fill="#3d63f0" font-weight="normal" text-anchor="middle">5Y</text>
<line x1="509.9" y1="523.8" x2="525.0" y2="523.8" stroke="#3d63f0" stroke-width="1.1"/>
<text x="534.4" y="521.4" font-size="6.3" fill="#2a2a2a" font-weight="normal" text-anchor="middle">10Y</text>
<text x="553.1" y="521.4" font-size="6.3" fill="#2a2a2a" font-weight="normal" text-anchor="middle">25Y</text>
<text x="572.1" y="521.4" font-size="6.3" fill="#2a2a2a" font-weight="normal" text-anchor="middle">50Y</text>
<text x="589.1" y="521.4" font-size="6.3" fill="#2a2a2a" font-weight="normal" text-anchor="middle">All</text>
<path d="M407.2 475.5 L408.4 475.2 L409.7 468.0 L411.1 461.2 L412.3 458.7 L413.5 464.7 L415.0 463.8 L416.2 464.7 L417.7 464.2 L419.2 465.7 L420.7 471.0 L422.2 467.7 L423.4 466.5 L424.7 468.3 L425.8 468.7 L427.0 469.5 L428.5 464.7 L429.7 469.2 L430.9 471.7 L432.1 476.2 L433.6 472.8 L434.8 470.7 L436.3 469.2 L438.4 468.3 L439.6 471.7 L440.8 473.2 L442.3 471.7 L443.8 473.2 L445.0 474.0 L446.5 475.5 L447.7 479.2 L448.9 481.2 L450.1 483.0 L451.3 481.2 L452.8 480.0 L454.3 481.2 L455.8 480.0 L457.3 477.7 L458.8 477.3 L460.0 477.7 L461.2 474.0 L462.4 471.7 L463.6 469.5 L464.8 468.3 L466.0 468.7 L467.2 470.2 L468.4 476.2 L469.3 478.2 L470.8 476.7 L472.3 475.5 L473.8 475.8 L475.0 475.2 L476.5 475.8 L477.7 478.5 L479.2 477.3 L480.7 474.7 L481.9 474.0 L483.1 476.2 L484.3 478.5 L485.8 479.7 L487.3 479.4 L488.8 479.2 L490.3 477.7 L491.8 476.7 L493.3 474.3 L494.8 471.3 L496.0 472.5 L497.2 475.5 L498.7 477.0 L500.2 476.7 L502.0 475.5 L503.5 474.0 L505.0 475.8 L506.2 474.3 L507.4 473.2 L508.6 476.2 L509.8 475.2 L510.0 474.7 L511.2 471.0 L512.4 468.7 L513.6 468.3 L514.8 464.2 L516.0 462.3 L517.2 465.7 L518.4 464.7 L519.6 465.7 L521.1 464.2 L522.3 463.2 L523.8 466.2 L525.3 468.7 L526.5 471.7 L527.7 474.3 L528.9 472.5 L530.4 471.7 L532.2 471.0 L533.7 472.8 L535.2 474.3 L536.4 475.8 L537.6 479.2 L538.8 482.2 L540.0 481.8 L541.5 479.2 L542.7 477.0 L543.9 476.2 L545.4 479.2 L546.9 480.7 L548.4 482.2 L549.6 484.2 L550.8 486.0 L552.0 487.2 L553.2 485.2 L554.1 484.2 L555.3 487.2 L556.5 486.7 L557.7 487.5 L558.9 485.2 L560.1 478.5 L561.3 479.2 L562.5 478.2 L563.7 476.2 L564.9 475.8 L566.4 476.2 L567.9 475.8 L569.1 473.2 L570.3 471.0 L571.5 467.7 L572.7 466.5 L574.2 466.8 L575.4 471.0 L576.6 471.7 L577.8 473.2 L579.0 474.7 L580.2 471.7 L581.4 470.2 L582.6 464.2 L583.5 462.0 L584.7 462.7 L585.9 461.2 L587.1 460.2 L588.3 461.7 L589.5 462.3 L590.7 460.5 L591.9 459.4 L593.1 460.8 L594.3 462.7 L595.5 464.7 L597.0 464.2 L598.5 463.8 L599.7 465.3 L600.9 466.8 L602.4 466.5 L603.9 464.7 L605.4 463.8 L606.9 464.2 L608.4 466.2 L609.6 467.7 L610.8 469.2 L612.0 467.2 L613.2 465.7 L614.4 466.8 L615.6 466.5 L616.8 467.7 L618.0 472.5 L619.2 473.2 L620.0 469.5 L621.3 463.1 L623.1 460.5 L624.6 464.4 L626.4 461.8 L628.2 458.5 L629.5 455.9 L630.8 460.0 L632.3 457.9 L634.1 456.7 L635.9 457.4 L637.9 457.9 L640.0 459.2 L642.1 458.5 L643.8 460.0 L645.1 456.7 L646.4 449.0 L647.7 447.7 L649.0 449.0 L650.3 442.6 L651.8 436.9 L653.3 434.9 L654.9 431.0 L656.4 434.9 L657.7 437.4 L659.0 430.3 L660.3 433.6 L661.8 436.9 L663.3 438.7 L664.9 436.9 L666.7 436.2 L668.2 431.8 L669.7 430.3 L671.3 431.0 L672.8 428.5 L674.4 427.2 L675.9 423.3 L677.4 422.6 L679.0 424.6 L680.5 419.5 L682.1 415.6 L683.6 412.3 L685.1 411.8 L686.7 407.2 L688.2 405.4 L689.7 406.7 L691.3 413.1 L692.3 418.2 L693.3 407.9 L694.9 411.8 L696.4 413.1 L698.2 414.4 L700.0 414.4 L701.5 412.3 L703.1 409.2 L704.6 405.4 L706.2 401.5 L707.7 397.7 L709.2 392.6 L710.8 396.4 L712.3 390.0 L713.8 386.2 L715.4 381.0 L716.4 379.7 L717.4 382.3 L718.5 370.8 L719.5 363.6 L720.8 362.6 L722.1 366.9 L723.3 364.4 L724.6 370.3 L725.9 359.2 L727.2 363.6 L728.5 360.5 L729.7 354.1 L731.3 358.5 L732.6 365.6 L733.8 359.2" fill="none" stroke="#2f58f2" stroke-width="1.05" stroke-linejoin="round"/>
<path d="M756.7 504.2 L756.7 505.2 L755.7 505.8 L755.3 506.5 L755.2 507.6 L754.4 508.1 L753.4 507.6 L752.6 507.6 L751.6 508.1 L750.7 507.6 L750.7 506.5 L750.3 505.8 L749.3 505.2 L749.3 504.2 L750.3 503.6 L750.7 502.9 L750.8 501.8 L751.6 501.3 L752.6 501.8 L753.4 501.8 L754.4 501.3 L755.3 501.8 L755.3 502.9 L755.7 503.6 Z" fill="#b0b0b0"/>
<circle cx="753.0" cy="504.7" r="1.1" fill="#fff"/>
</g></defs>
<use href="#c" x="-0.40" y="-0.40"/>
<use href="#c" x="0.40" y="-0.40" opacity="0.5"/>
<use href="#c" x="-0.40" y="0.40" opacity="0.3333"/>
<use href="#c" x="0.40" y="0.40" opacity="0.25"/>
</svg>
</body></html>
